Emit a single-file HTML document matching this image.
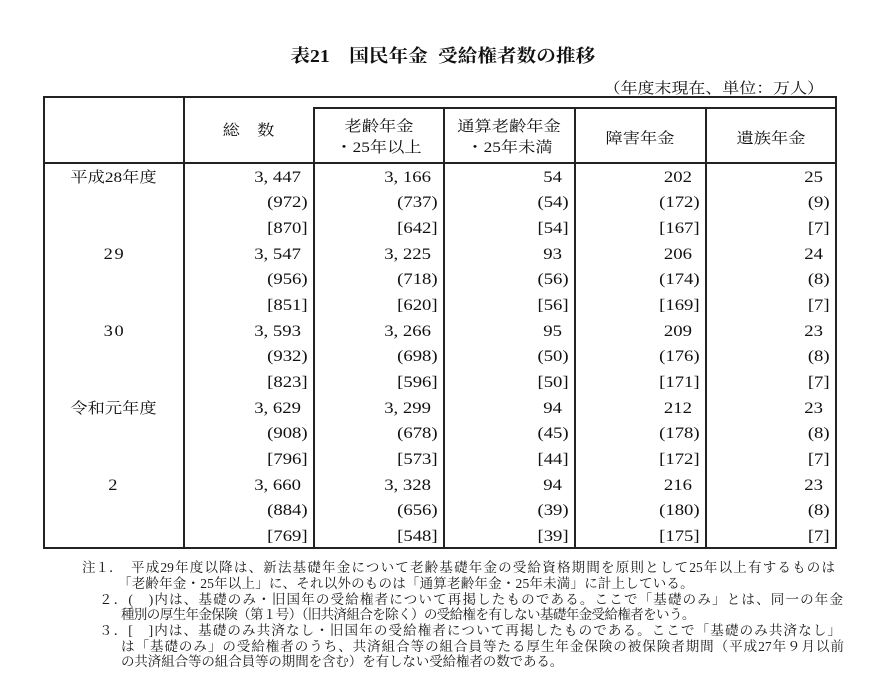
<!DOCTYPE html>
<html><head><meta charset="utf-8">
<style>
body{margin:0;background:#fff}
#p{position:relative;width:870px;height:696px;overflow:hidden;background:#fff;font-family:"Liberation Serif","Noto Serif CJK SC",serif;color:#111}
.h,.v{position:absolute;background:#222}
.h{height:2px}.v{width:2px}
.t{position:absolute;text-align:center;white-space:nowrap;font-size:15px;line-height:20px}
.t span{display:inline-block;transform:scaleX(1.15);transform-origin:50% 50%}
.num{position:absolute;top:164.5px;text-align:right}
.num div{height:25.7px;line-height:25.7px;padding-right:7.5px;white-space:nowrap}
.num div.b{padding-right:0}
.num span{display:inline-block;transform:scaleX(1.17);transform-origin:100% 50%;font-size:16px}
.num i{font-style:normal;display:inline-block;width:.5em;text-align:left}
.lab{position:absolute;left:44px;width:140px;text-align:center;height:25.7px;line-height:25.7px;white-space:nowrap}
.lab span{display:inline-block;transform:scaleX(1.15);transform-origin:50% 50%;font-size:15px}
.lab span.d{font-size:16px;letter-spacing:1.5px}
.n{position:absolute;font-size:13.5px;line-height:15.8px;text-align:justify;text-align-last:justify;color:#1a1a1a}
.np{position:absolute;font-size:13.5px;line-height:15.8px;white-space:nowrap;color:#1a1a1a}
</style></head><body>
<div id="p">
<!-- title -->
<div style="position:absolute;left:0;width:885px;top:43.7px;text-align:center;font-size:18px;line-height:24px;font-weight:bold;white-space:nowrap;word-spacing:5px"><span style="display:inline-block;transform:scaleX(1.09);transform-origin:50% 50%">表21　国民年金 受給権者数の推移</span></div>
<!-- unit -->
<div style="position:absolute;right:46px;top:78.5px;font-size:15px;line-height:20px;white-space:nowrap"><span style="display:inline-block;transform:scaleX(1.13);transform-origin:100% 50%">（年度末現在、単位：万人）</span></div>

<!-- lines -->
<div class="h" style="left:43.4px;width:793.6px;top:95.7px"></div>
<div class="h" style="left:313px;width:524px;top:107.3px"></div>
<div class="h" style="left:43.4px;width:793.6px;top:161.7px"></div>
<div class="h" style="left:43.4px;width:793.6px;top:546.5px;height:2.5px"></div>
<div class="v" style="left:43.4px;top:95.7px;height:453.3px"></div>
<div class="v" style="left:183px;top:95.7px;height:453.3px"></div>
<div class="v" style="left:313px;top:107.3px;height:441.7px"></div>
<div class="v" style="left:443px;top:107.3px;height:441.7px"></div>
<div class="v" style="left:574px;top:107.3px;height:441.7px"></div>
<div class="v" style="left:704.5px;top:107.3px;height:441.7px"></div>
<div class="v" style="left:835px;top:95.7px;height:453.3px"></div>

<!-- header -->
<div class="t" style="left:184px;width:130px;top:120.6px"><span>総　数</span></div>
<div class="t" style="left:314px;width:130px;top:117.3px"><span>老齢年金</span></div>
<div class="t" style="left:314px;width:130px;top:137.6px"><span>・25年以上</span></div>
<div class="t" style="left:444px;width:131px;top:117.3px"><span>通算老齢年金</span></div>
<div class="t" style="left:444px;width:131px;top:137.6px"><span>・25年未満</span></div>
<div class="t" style="left:575px;width:130.5px;top:129px"><span>障害年金</span></div>
<div class="t" style="left:705.5px;width:130.5px;top:129px"><span>遺族年金</span></div>

<!-- row labels -->
<div class="lab" style="top:164.5px"><span>平成28年度</span></div>
<div class="lab" style="top:241.6px"><span class="d">29</span></div>
<div class="lab" style="top:318.7px"><span class="d">30</span></div>
<div class="lab" style="top:395.8px"><span>令和元年度</span></div>
<div class="lab" style="top:472.9px"><span class="d">2</span></div>

<!-- 総数 -->
<div class="num" style="right:562px">
<div><span>3<i>,</i>447</span></div><div class="b"><span>(972)</span></div><div class="b"><span>[870]</span></div>
<div><span>3<i>,</i>547</span></div><div class="b"><span>(956)</span></div><div class="b"><span>[851]</span></div>
<div><span>3<i>,</i>593</span></div><div class="b"><span>(932)</span></div><div class="b"><span>[823]</span></div>
<div><span>3<i>,</i>629</span></div><div class="b"><span>(908)</span></div><div class="b"><span>[796]</span></div>
<div><span>3<i>,</i>660</span></div><div class="b"><span>(884)</span></div><div class="b"><span>[769]</span></div>
</div>
<!-- 老齢 -->
<div class="num" style="right:432px">
<div><span>3<i>,</i>166</span></div><div class="b"><span>(737)</span></div><div class="b"><span>[642]</span></div>
<div><span>3<i>,</i>225</span></div><div class="b"><span>(718)</span></div><div class="b"><span>[620]</span></div>
<div><span>3<i>,</i>266</span></div><div class="b"><span>(698)</span></div><div class="b"><span>[596]</span></div>
<div><span>3<i>,</i>299</span></div><div class="b"><span>(678)</span></div><div class="b"><span>[573]</span></div>
<div><span>3<i>,</i>328</span></div><div class="b"><span>(656)</span></div><div class="b"><span>[548]</span></div>
</div>
<!-- 通算 -->
<div class="num" style="right:301px">
<div><span>54</span></div><div class="b"><span>(54)</span></div><div class="b"><span>[54]</span></div>
<div><span>93</span></div><div class="b"><span>(56)</span></div><div class="b"><span>[56]</span></div>
<div><span>95</span></div><div class="b"><span>(50)</span></div><div class="b"><span>[50]</span></div>
<div><span>94</span></div><div class="b"><span>(45)</span></div><div class="b"><span>[44]</span></div>
<div><span>94</span></div><div class="b"><span>(39)</span></div><div class="b"><span>[39]</span></div>
</div>
<!-- 障害 -->
<div class="num" style="right:170.5px">
<div><span>202</span></div><div class="b"><span>(172)</span></div><div class="b"><span>[167]</span></div>
<div><span>206</span></div><div class="b"><span>(174)</span></div><div class="b"><span>[169]</span></div>
<div><span>209</span></div><div class="b"><span>(176)</span></div><div class="b"><span>[171]</span></div>
<div><span>212</span></div><div class="b"><span>(178)</span></div><div class="b"><span>[172]</span></div>
<div><span>216</span></div><div class="b"><span>(180)</span></div><div class="b"><span>[175]</span></div>
</div>
<!-- 遺族 -->
<div class="num" style="right:40px">
<div><span>25</span></div><div class="b"><span>(9)</span></div><div class="b"><span>[7]</span></div>
<div><span>24</span></div><div class="b"><span>(8)</span></div><div class="b"><span>[7]</span></div>
<div><span>23</span></div><div class="b"><span>(8)</span></div><div class="b"><span>[7]</span></div>
<div><span>23</span></div><div class="b"><span>(8)</span></div><div class="b"><span>[7]</span></div>
<div><span>23</span></div><div class="b"><span>(8)</span></div><div class="b"><span>[7]</span></div>
</div>

<!-- notes -->
<div class="np" style="left:82px;top:560px">注１．</div>
<div class="n" style="left:131px;width:704px;top:560px">平成29年度以降は、新法基礎年金について老齢基礎年金の受給資格期間を原則として25年以上有するものは</div>
<div class="np" style="left:118px;top:575.7px;letter-spacing:0.2px">「老齢年金・25年以上」に、それ以外のものは「通算老齢年金・25年未満」に計上している。</div>
<div class="n" style="left:99px;width:744px;top:591.5px">２．(　)内は、基礎のみ・旧国年の受給権者について再掲したものである。ここで「基礎のみ」とは、同一の年金</div>
<div class="np" style="left:121px;top:607.2px;letter-spacing:-0.6px">種別の厚生年金保険（第１号）（旧共済組合を除く）の受給権を有しない基礎年金受給権者をいう。</div>
<div class="n" style="left:99px;width:742px;top:622.9px">３．[　]内は、基礎のみ共済なし・旧国年の受給権者について再掲したものである。ここで「基礎のみ共済なし」</div>
<div class="n" style="left:121px;width:723px;top:638.7px">は「基礎のみ」の受給権者のうち、共済組合等の組合員等たる厚生年金保険の被保険者期間（平成27年９月以前</div>
<div class="np" style="left:121px;top:654.4px;letter-spacing:-0.1px">の共済組合等の組合員等の期間を含む）を有しない受給権者の数である。</div>
</div>
</body></html>
